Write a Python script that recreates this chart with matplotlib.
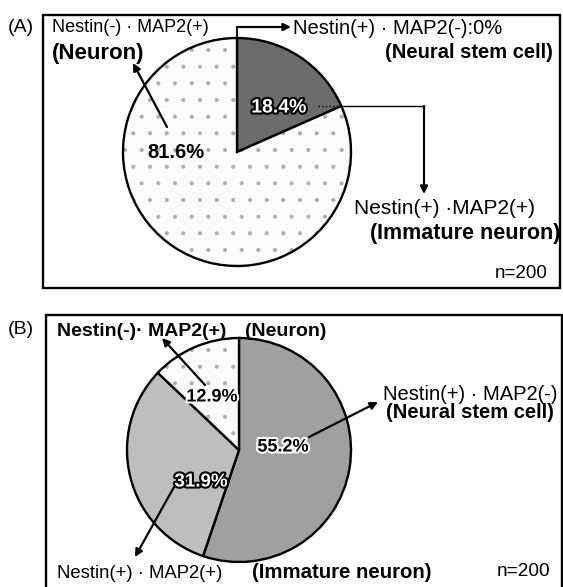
import matplotlib
matplotlib.use('Agg')
import matplotlib.pyplot as plt
import matplotlib.patheffects as pe
from matplotlib.patches import Rectangle

plt.rcParams['font.family'] = ['Liberation Sans', 'DejaVu Sans']
plt.rcParams['hatch.linewidth'] = 0.5

# cell types, clockwise from 12 o'clock
cell_types = ['Neural stem cell', 'Immature neuron', 'Neuron']
marker_a = ['Nestin(+) · MAP2(-):0%', 'Nestin(+) ·MAP2(+)', 'Nestin(-) · MAP2(+)']
marker_b = ['Nestin(+) · MAP2(-)', 'Nestin(+) · MAP2(+)', 'Nestin(-)· MAP2(+)']
pct_a = [0.0, 18.4, 81.6]
pct_b = [55.2, 31.9, 12.9]
n_cells = [200, 200]

colors_a = ['#9c9c9c', '#6c6c6c', '#fbfbfb']
colors_b = ['#a0a0a0', '#bebebe', '#fbfbfb']
hatches = [None, None, '.']

W, H = 563, 587
fig = plt.figure(figsize=(W / 100, H / 100), dpi=100)
ax = fig.add_axes([0, 0, 1, 1])


def Y(y):
    # pixel row (from top) -> data y
    return H - y


def pie(values, colors, cx, cy, r):
    wedges, _ = ax.pie(values, colors=colors, startangle=90, counterclock=False,
                       center=(cx, Y(cy)), radius=r,
                       wedgeprops=dict(edgecolor='black', linewidth=1.7))
    for w, h in zip(wedges, hatches):
        if h:
            w.set_hatch(h)
            w._hatch_color = (0.68, 0.68, 0.68, 1.0)


def txt(x, y, s, ha='left', bold=False, size=13.5, **kw):
    ax.text(x, Y(y), s, ha=ha, va='center', fontsize=size,
            fontweight='bold' if bold else 'normal', **kw)


def arrow(x0, y0, x1, y1):
    ax.annotate('', xy=(x1, Y(y1)), xytext=(x0, Y(y0)),
                arrowprops=dict(arrowstyle='-|>', color='black', lw=1.6,
                                mutation_scale=11, shrinkA=0, shrinkB=0))


white_out = [pe.withStroke(linewidth=3, foreground='black')]
black_halo = [pe.withStroke(linewidth=3, foreground='white')]

# ---- panel A ----
ax.add_patch(Rectangle((43, Y(288)), 517, 273, fill=False, lw=1.7, ec='black'))
pie(pct_a, colors_a, 237, 152, 114)
txt(8, 28, '(A)', size=14)
txt(52, 28, marker_a[2], size=13)
txt(52, 53, f'({cell_types[2]})', bold=True, size=16)
txt(293, 28, marker_a[0], size=14.5)
txt(553, 52, f'({cell_types[0]})', ha='right', bold=True, size=14.5)
txt(354, 209, marker_a[1], size=15)
txt(560, 234, f'({cell_types[1]})', ha='right', bold=True, size=15.5)
txt(548, 273, f'n={n_cells[0]}', ha='right', size=13.5)
txt(279, 108, f'{pct_a[1]}%', ha='center', bold=True, size=14,
    color='white', path_effects=white_out)
txt(176, 152, f'{pct_a[2]}%', ha='center', bold=True, size=14.5)
arrow(167, 127, 133, 63)
ax.plot([237, 237], [Y(38), Y(27)], color='black', lw=1.3)
arrow(237, 27, 291, 27)
ax.plot([318, 342], [Y(106), Y(106)], color='black', lw=1.0, ls=':')
ax.plot([342, 424], [Y(106), Y(106)], color='black', lw=1.0)
arrow(424, 106, 424, 194)

# ---- panel B ----
ax.add_patch(Rectangle((46, Y(600)), 516, 285, fill=False, lw=1.7, ec='black'))
pie(pct_b, colors_b, 239, 450, 112)
txt(8, 330, '(B)', size=14)
txt(57, 331, marker_b[2], bold=True, size=14)
txt(245, 331, f'({cell_types[2]})', bold=True, size=14)
txt(383, 394, marker_b[0], size=14.5)
txt(554, 413, f'({cell_types[0]})', ha='right', bold=True, size=14.5)
txt(57, 573, marker_b[1], size=13.3)
txt(252, 573, f'({cell_types[1]})', bold=True, size=14.7)
txt(550, 572, f'n={n_cells[1]}', ha='right', size=13.7)
txt(283, 447, f'{pct_b[0]}%', ha='center', bold=True, size=13,
    path_effects=black_halo)
txt(201, 482, f'{pct_b[1]}%', ha='center', bold=True, size=13.5, color='white',
    path_effects=white_out)
txt(212, 397, f'{pct_b[2]}%', ha='center', bold=True, size=13,
    path_effects=black_halo)
arrow(309, 437, 378, 402)
arrow(205, 385, 162, 338)
arrow(174, 487, 135, 557)

ax.set_xlim(0, W)
ax.set_ylim(0, H)
ax.set_aspect('auto')
ax.axis('off')
fig.savefig('out.png', dpi=100)
